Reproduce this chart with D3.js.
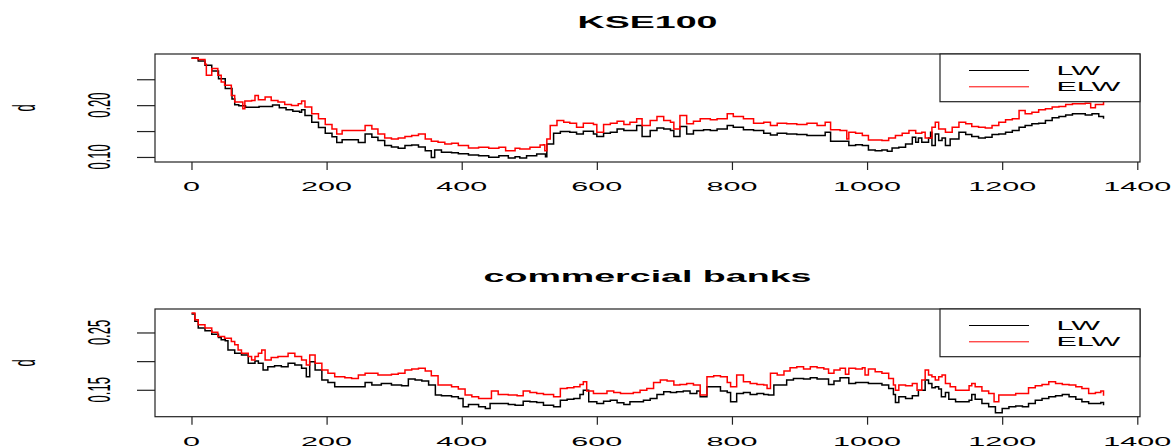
<!DOCTYPE html>
<html>
<head>
<meta charset="utf-8">
<script src="https://cdn.jsdelivr.net/npm/d3@7"></script>
<style>
  body { margin: 0; background: #fff; }
  svg { display: block; }
  text { font-family: "Liberation Sans", Arial, Helvetica, sans-serif; fill: #000; }
</style>
</head>
<body>
<svg id="chart" width="1175" height="448"></svg>
<script>
// ---- KSE100: estimated d by trading day ----
const kseLwDay = [0,10,20,30,40,50,60,64,70,80,
  90,100,110,120,130,140,150,160,163,168,
  178,188,198,208,215,223,232,247,257,267,
  276,286,296,306,316,326,336,346,355,360,
  370,385,395,410,425,440,455,469,479,486,
  496,511,521,524,526,536,546,560,570,580,
  595,600,610,620,630,640,650,659,667,679,
  689,699,709,714,723,733,743,758,768,778,
  793,802,817,832,847,857,867,881,896,911,
  926,938,946,960,973,983,993,1002,1012,1022,
  1030,1037,1047,1057,1067,1072,1076,1081,1091,1094,
  1096,1101,1106,1111,1116,1123,1136,1146,1155,1165,
  1175,1185,1195,1205,1215,1225,1234,1244,1254,1264,
  1274,1284,1294,1304,1313,1323,1333,1343,1350];
const kseLw = [0.291,0.285,0.277,0.266,0.251,0.232,0.212,0.201,0.199,0.196,
  0.196,0.1975,0.1975,0.2005,0.195,0.191,0.188,0.1865,0.191,0.180,
  0.167,0.157,0.146,0.139,0.128,0.133,0.133,0.128,0.1445,0.138,
  0.1316,0.122,0.119,0.117,0.122,0.123,0.119,0.112,0.099,0.1135,
  0.109,0.108,0.106,0.104,0.1025,0.0993,0.1025,0.098,0.1006,0.098,
  0.1025,0.1057,0.1057,0.1006,0.1251,0.1458,0.149,0.1477,0.1445,0.1497,
  0.1445,0.1393,0.1458,0.1477,0.1542,0.151,0.151,0.1606,0.1393,0.151,
  0.1561,0.1542,0.151,0.1393,0.1587,0.1445,0.151,0.1523,0.151,0.1542,
  0.1606,0.1574,0.1523,0.151,0.1458,0.1426,0.1458,0.1445,0.1432,0.1413,
  0.1413,0.1477,0.1303,0.1303,0.1219,0.1238,0.1219,0.1135,0.1122,0.1135,
  0.1109,0.1174,0.1187,0.1251,0.138,0.1284,0.1367,0.1284,0.1367,0.1477,
  0.1219,0.1445,0.1316,0.1367,0.1219,0.1348,0.1477,0.1432,0.1393,0.1367,
  0.138,0.1432,0.1445,0.1477,0.151,0.1574,0.1606,0.1639,0.1652,0.1703,
  0.1755,0.1781,0.181,0.1833,0.1833,0.181,0.1833,0.1781,0.1736];

const kseElwDay = [0,10,20,22,30,39,44,49,59,64,
  69,76,79,89,94,99,109,118,128,138,
  148,158,163,168,178,188,198,208,215,223,
  232,247,257,267,276,286,296,306,316,326,
  336,346,355,365,375,385,395,410,425,440,
  455,465,479,486,501,516,521,523,526,531,
  541,551,560,570,580,595,600,610,620,630,
  640,649,659,667,679,689,699,709,714,723,
  733,743,753,768,778,793,802,817,832,847,
  857,867,881,896,911,926,938,946,960,970,
  973,983,993,1002,1012,1022,1032,1042,1052,1062,
  1072,1081,1086,1096,1101,1106,1116,1126,1136,1146,
  1155,1165,1175,1185,1195,1205,1215,1225,1234,1244,
  1254,1264,1274,1284,1294,1304,1313,1323,1331,1338,
  1350];
const kseElw = [0.2905,0.2879,0.2789,0.2576,0.2705,0.2576,0.2446,0.2382,0.2188,0.2059,
  0.2059,0.193,0.2078,0.2091,0.2188,0.2104,0.2156,0.2091,0.2059,0.2013,
  0.1994,0.2026,0.2078,0.1962,0.1833,0.1736,0.1626,0.1542,0.1445,0.151,
  0.151,0.151,0.1606,0.1542,0.1445,0.1367,0.1348,0.1367,0.1393,0.1413,
  0.1445,0.1348,0.1303,0.1284,0.1251,0.1264,0.1219,0.1174,0.1187,0.1167,
  0.1187,0.1122,0.1167,0.1154,0.1187,0.1232,0.1238,0.1122,0.1348,0.1606,
  0.1703,0.1671,0.1652,0.1574,0.1652,0.1626,0.1477,0.1626,0.1652,0.169,
  0.1626,0.1671,0.1736,0.1606,0.1703,0.1781,0.1703,0.1671,0.1542,0.18,
  0.1639,0.169,0.1736,0.1716,0.1736,0.1833,0.1781,0.1736,0.1652,0.1671,
  0.1606,0.1652,0.1639,0.1626,0.1652,0.1606,0.1671,0.1523,0.151,0.1348,
  0.1477,0.1458,0.1413,0.1329,0.1329,0.1316,0.1367,0.1413,0.1458,0.151,
  0.1458,0.1477,0.1367,0.1574,0.1671,0.1542,0.1477,0.1574,0.1671,0.1639,
  0.1587,0.1574,0.1561,0.1606,0.1671,0.1716,0.1736,0.1897,0.1833,0.1865,
  0.191,0.193,0.1962,0.1975,0.2013,0.2026,0.2026,0.2039,0.1949,0.2013,
  0.2059];

// ---- commercial banks: estimated d by trading day ----
const bankLwDay = [0,5,10,20,30,40,44,50,54,64,
  74,84,94,99,106,113,123,133,143,153,
  163,170,175,183,193,202,212,227,242,257,
  267,281,296,311,321,331,341,351,361,370,
  385,395,402,410,425,435,442,455,469,479,
  491,501,511,521,536,546,556,566,575,580,
  588,600,610,620,630,640,649,659,669,679,
  689,699,709,718,728,738,748,753,763,773,
  783,793,798,807,817,827,837,847,854,862,
  872,881,891,906,916,926,936,943,951,960,
  973,983,993,1002,1012,1022,1032,1039,1042,1047,
  1057,1067,1076,1086,1091,1096,1101,1106,1110,1116,
  1121,1131,1141,1151,1155,1160,1170,1180,1190,1200,
  1210,1220,1230,1239,1249,1259,1269,1279,1289,1299,
  1309,1318,1328,1338,1346,1350];
const bankLw = [0.2822,0.2694,0.2577,0.253,0.2471,0.2413,0.2372,0.2354,0.2196,0.2138,
  0.2109,0.1962,0.2003,0.1962,0.1845,0.1904,0.1921,0.1904,0.1962,0.1933,
  0.1875,0.1728,0.1991,0.1845,0.167,0.1629,0.1553,0.1553,0.1553,0.1629,
  0.1582,0.1611,0.1582,0.157,0.1687,0.167,0.1652,0.1582,0.1407,0.1395,
  0.1377,0.1348,0.1202,0.1243,0.1202,0.1173,0.126,0.126,0.1243,0.1231,
  0.1301,0.129,0.1278,0.1231,0.1202,0.1319,0.1336,0.1348,0.1418,0.1494,
  0.129,0.126,0.1301,0.1319,0.1272,0.1243,0.129,0.129,0.1319,0.1348,
  0.1418,0.1465,0.1453,0.1465,0.1477,0.1436,0.1477,0.1377,0.1553,0.1553,
  0.1477,0.1453,0.129,0.1436,0.1453,0.1418,0.1436,0.1418,0.1407,0.1582,
  0.1582,0.167,0.1699,0.1687,0.1711,0.1687,0.1687,0.1594,0.1652,0.1711,
  0.1611,0.1629,0.1629,0.1611,0.1611,0.1582,0.1524,0.1418,0.1278,0.1377,
  0.1348,0.1395,0.1494,0.167,0.1611,0.1535,0.1553,0.1512,0.1377,0.1453,
  0.1336,0.129,0.129,0.1319,0.1418,0.1336,0.126,0.1202,0.110,0.1173,
  0.1202,0.1219,0.1202,0.126,0.1319,0.1348,0.1377,0.1395,0.1418,0.1377,
  0.1336,0.129,0.126,0.126,0.1278,0.1231];

const bankElwDay = [0,5,10,20,30,39,49,59,64,69,
  74,84,89,94,99,104,109,118,128,138,
  143,153,163,170,175,183,193,202,212,227,
  237,247,257,267,276,286,296,306,316,326,
  336,346,355,365,375,385,395,405,415,425,
  435,444,454,469,482,491,501,511,521,536,
  546,556,566,575,580,585,595,605,615,625,
  635,644,654,664,674,684,694,704,714,723,
  733,743,753,763,773,783,793,798,807,817,
  827,837,847,852,857,867,877,886,896,906,
  916,926,936,943,951,960,968,973,983,993,
  997,1002,1012,1022,1032,1039,1042,1047,1057,1067,
  1074,1081,1086,1091,1096,1101,1106,1111,1116,1123,
  1131,1141,1151,1155,1160,1170,1180,1188,1195,1210,
  1220,1230,1239,1249,1259,1269,1279,1289,1299,1309,
  1318,1328,1338,1346,1350];
const bankElw = [0.284,0.2723,0.2635,0.2577,0.2506,0.243,0.2401,0.2343,0.2284,0.2196,
  0.2138,0.2079,0.2021,0.2079,0.2138,0.2196,0.2021,0.2062,0.2079,0.2079,
  0.2138,0.2079,0.2021,0.1933,0.2109,0.1962,0.1845,0.1787,0.1728,0.1711,
  0.1699,0.1758,0.1787,0.1787,0.1758,0.1758,0.1769,0.1787,0.1845,0.1863,
  0.1875,0.1828,0.1746,0.1582,0.1582,0.1553,0.1512,0.1407,0.1377,0.1348,
  0.1348,0.1477,0.1418,0.1407,0.1395,0.1477,0.1453,0.1436,0.1418,0.1377,
  0.1524,0.1535,0.1553,0.1594,0.1641,0.1477,0.1436,0.1436,0.1477,0.1453,
  0.1436,0.1436,0.1453,0.1494,0.1524,0.1629,0.167,0.1652,0.1582,0.1594,
  0.1611,0.1582,0.1407,0.1728,0.1746,0.1728,0.1629,0.1553,0.1758,0.1641,
  0.1611,0.1594,0.1582,0.1524,0.1787,0.1758,0.1828,0.1886,0.1904,0.1863,
  0.1904,0.1886,0.1863,0.1787,0.1845,0.1875,0.1769,0.1875,0.1863,0.1886,
  0.1758,0.1863,0.1816,0.1787,0.1699,0.1582,0.1494,0.1582,0.157,0.1611,
  0.1494,0.167,0.1845,0.1758,0.1728,0.167,0.1728,0.1758,0.1611,0.1553,
  0.1494,0.1494,0.157,0.1611,0.1553,0.1477,0.1436,0.129,0.1407,0.1407,
  0.1436,0.1436,0.1535,0.157,0.1594,0.1641,0.1611,0.1594,0.1582,0.1553,
  0.1524,0.1436,0.1453,0.1477,0.1395];

// ---- axes and labels ----
const xTicks = [0, 200, 400, 600, 800, 1000, 1200, 1400];
const kseYTicks = [0.10, 0.15, 0.20, 0.25];
const kseYLabels = [0.10, 0.20];
const bankYTicks = [0.15, 0.20, 0.25];
const bankYLabels = [0.15, 0.25];
const seriesNames = ["LW", "ELW"];
const seriesColors = ["#000000", "#ff0000"];
const panelTitles = ["KSE100", "commercial banks"];
const yAxisTitle = "d";

// ---- layout ----
const svg = d3.select("#chart");
const plotLeft = 155, plotRight = 1140;
const STRETCH = 2.35;       // horizontal stretch of the device's text
const AX_FS = 13, TITLE_FS = 16;

const panels = [
  { title: panelTitles[0], series: [[kseLwDay, kseLw], [kseElwDay, kseElw]],
    yTicks: kseYTicks, yLabels: kseYLabels, top: 54, bottom: 162, titleY: 22.5 },
  { title: panelTitles[1], series: [[bankLwDay, bankLw], [bankElwDay, bankElw]],
    yTicks: bankYTicks, yLabels: bankYLabels, top: 309, bottom: 416.7, titleY: 276 }
];

// R-style 4% padding of the data range
function padded(ext) {
  const d = (ext[1] - ext[0]) * 0.04;
  return [ext[0] - d, ext[1] + d];
}

function stretchedText(g, x, y, str, opts = {}) {
  const rot = opts.rotate ? " rotate(-90)" : "";
  return g.append("text")
    .attr("transform", `translate(${x},${y}) scale(${STRETCH},1)${rot}`)
    .attr("text-anchor", opts.anchor || "middle")
    .attr("dy", opts.dy || "0.36em")
    .attr("font-size", opts.size || AX_FS)
    .attr("font-weight", opts.weight || "normal")
    .text(str);
}

panels.forEach(p => {
  const g = svg.append("g");
  const allDays = p.series.flatMap(s => s[0]);
  const allVals = p.series.flatMap(s => s[1]);

  const x = d3.scaleLinear().domain(padded(d3.extent(allDays))).range([plotLeft, plotRight]);
  const y = d3.scaleLinear().domain(padded(d3.extent(allVals))).range([p.bottom, p.top]);

  // series lines, drawn as daily steps
  const line = d3.line().curve(d3.curveStepAfter).x(d => x(d[0])).y(d => y(d[1]));
  p.series.forEach((s, i) => {
    g.append("path")
      .datum(d3.zip(s[0], s[1]))
      .attr("fill", "none")
      .attr("stroke", seriesColors[i])
      .attr("stroke-width", 1.5)
      .attr("stroke-linejoin", "miter")
      .attr("d", line);
  });

  // x axis ticks
  const xAxis = d3.axisBottom(x).tickValues(xTicks).tickSize(8).tickFormat("");
  const gx = g.append("g").attr("transform", `translate(0,${p.bottom})`).call(xAxis);
  gx.select(".domain").remove();
  gx.selectAll("line").attr("stroke", "#222").attr("stroke-width", 1.2);
  xTicks.forEach(t => stretchedText(g, x(t), p.bottom + 24.5, String(t)));

  // y axis ticks
  const yAxis = d3.axisLeft(y).tickValues(p.yTicks).tickSize(18).tickFormat("");
  const gy = g.append("g").attr("transform", `translate(${plotLeft},0)`).call(yAxis);
  gy.select(".domain").remove();
  gy.selectAll("line").attr("stroke", "#222").attr("stroke-width", 1.2);
  p.yLabels.forEach(v => stretchedText(g, 98.5, y(v), d3.format(".2f")(v), { rotate: true }));

  // box
  g.append("rect")
    .attr("x", plotLeft).attr("y", p.top)
    .attr("width", plotRight - plotLeft).attr("height", p.bottom - p.top)
    .attr("fill", "none").attr("stroke", "#222").attr("stroke-width", 1.2);

  // titles
  stretchedText(g, (plotLeft + plotRight) / 2, p.titleY, p.title, { size: TITLE_FS, weight: "bold" });
  stretchedText(g, 23.5, (p.top + p.bottom) / 2, yAxisTitle, { rotate: true });

  // legend
  const lg = g.append("g");
  lg.append("rect")
    .attr("x", 940).attr("y", p.top)
    .attr("width", plotRight - 940).attr("height", 47.7)
    .attr("fill", "#fff").attr("stroke", "#222").attr("stroke-width", 1.2);
  seriesNames.forEach((name, i) => {
    const ly = p.top + 16.5 + i * 16.3;
    lg.append("line")
      .attr("x1", 969).attr("x2", 1029).attr("y1", ly).attr("y2", ly)
      .attr("stroke", seriesColors[i]).attr("stroke-width", 1);
    stretchedText(lg, 1056.5, ly, name, { anchor: "start" });
  });
});
</script>
</body>
</html>
